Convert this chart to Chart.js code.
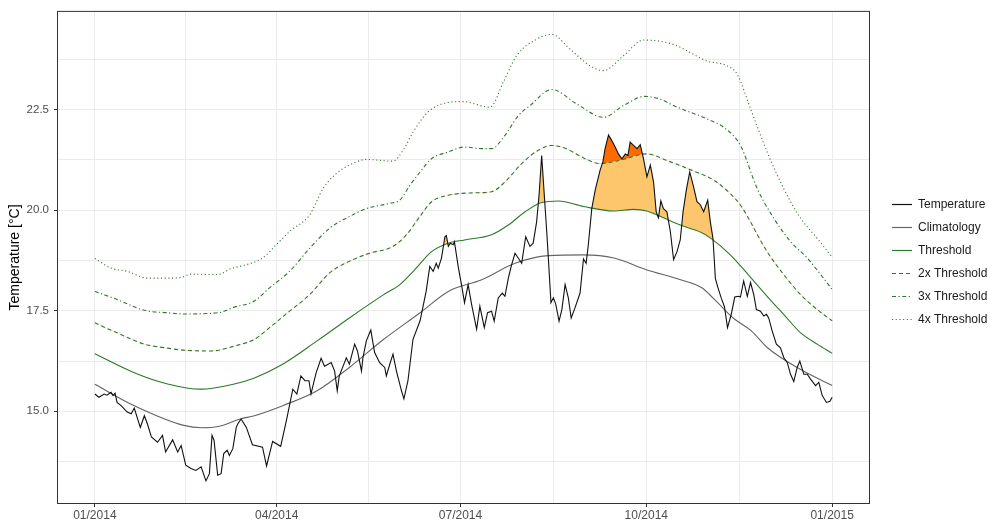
<!DOCTYPE html>
<html lang="en">
<head>
  <meta charset="UTF-8">
  <title>Temperature, climatology and thresholds 2014</title>
  <script src="https://cdn.jsdelivr.net/npm/chart.js"></script>
  <style>
    html, body { margin: 0; padding: 0; background: #fff; overflow: hidden; }
    #wrap { width: 988px; height: 524px; }
  </style>
</head>
<body>
  <div id="wrap"><canvas id="tempChart" width="988" height="524"></canvas></div>

  <script>
    // x values are days counted from 01/01/2014
    const tempDays = [0, 2, 4.6, 6, 8, 9, 10, 11, 13, 16, 18, 19.5, 22.5, 24.5, 26, 28, 31, 33.5, 35, 38.5,
      41, 42.7, 45, 47.6, 50, 52.6, 55, 56.7, 58, 59, 60.8, 62.5, 63.8, 65.5, 66.6, 68.3, 70, 70.8, 72.4, 75,
      78, 83, 85, 86.5, 88, 92, 95, 98, 100, 102, 104, 106, 107, 109.5, 112, 113.7, 117, 118.7, 120, 121,
      124.5, 126, 128.6, 130, 132, 132.7, 134.4, 136.6, 138.5, 141, 143.5, 144.3, 146, 147.6, 149.3, 151.8, 153, 155, 157.5, 161,
      164, 165.8, 167.5, 169, 170, 171.6, 173.3, 174, 175, 176, 177.4, 178, 180, 181.5, 183, 184.8, 186.5, 189, 190.6, 192.8,
      194.4, 196.4, 197.7, 199.7, 201.7, 203, 204.7, 206.3, 208, 209.6, 211.3, 213.3, 215.4, 217, 218.7, 219.9, 221.2, 222.5, 223.7, 224.5,
      225.8, 227, 228.2, 229.8, 231.2, 232.8, 234.4, 235.8, 237.7, 240.2, 241.9, 243.2, 244.3, 246, 247.7, 250.1, 251.5, 252.6, 254.3, 255.9,
      257.6, 259.2, 260.9, 262.6, 263.9, 265, 266.7, 268.4, 270, 271.6, 273.3, 275, 276.6, 277.9, 279, 280.2, 281.5, 283.2, 284.9, 286.5,
      288.2, 289.8, 291.2, 292.8, 294.5, 296.4, 298.1, 299.8, 301.4, 303.4, 304.7, 306, 306.6, 307.2, 308.5, 310.2, 311.7, 313.2, 315, 316.8,
      318.5, 319.6, 321.2, 323, 324.6, 326.2, 327.5, 329.5, 331.2, 332.5, 333.6, 335.3, 337.4, 339.4, 341.1, 342.8, 344.4, 346, 347.7, 349,
      351, 352.7, 354.3, 356.8, 358.4, 360.1, 362.2, 363.9, 365];
    const tempValues = [15.43, 15.35, 15.43, 15.40, 15.47, 15.39, 15.45, 15.22, 15.14, 14.98, 14.94, 15.08, 14.60, 14.89, 14.69, 14.36, 14.23, 14.40, 13.99, 14.29,
      13.99, 14.15, 13.66, 13.58, 13.53, 13.62, 13.27, 13.45, 14.40, 14.28, 13.41, 13.45, 13.95, 14.03, 13.90, 14.07, 14.60, 14.69, 14.81, 14.60,
      14.17, 14.11, 13.64, 13.95, 14.25, 14.13, 14.81, 15.55, 15.43, 15.88, 15.76, 15.76, 15.43, 15.95, 16.32, 16.12, 16.21, 16.00, 15.51, 15.88,
      16.33, 16.17, 16.67, 16.50, 16.00, 16.33, 16.75, 17.02, 16.46, 16.21, 16.09, 15.88, 16.17, 16.42, 16.00, 15.51, 15.31, 15.76, 16.79, 17.25,
      17.98, 18.60, 18.48, 18.68, 18.56, 18.81, 19.34, 19.37, 19.10, 19.18, 19.14, 19.22, 18.56, 18.15, 17.70, 18.15, 17.66, 17.04, 17.61, 17.08,
      17.45, 17.49, 17.24, 17.82, 17.94, 17.86, 18.31, 18.64, 18.93, 18.81, 18.68, 19.34, 19.10, 19.18, 19.71, 20.37, 21.36, 20.37, 19.47, 18.81,
      17.70, 17.82, 17.66, 17.24, 17.53, 18.15, 17.82, 17.32, 17.57, 17.94, 18.79, 18.68, 19.14, 20.04, 20.50, 20.99, 21.20, 21.53, 21.87, 21.73,
      21.57, 21.40, 21.28, 21.40, 21.36, 21.69, 21.61, 21.53, 21.63, 21.28, 20.83, 21.12, 20.70, 19.96, 19.81, 20.23, 20.04, 19.96, 19.47, 18.77,
      18.97, 19.26, 19.96, 20.50, 20.95, 20.58, 20.21, 20.13, 19.96, 20.25, 19.71, 19.30, 18.81, 18.30, 18.07, 17.80, 17.60, 17.08, 17.40, 17.84,
      17.86, 17.84, 18.24, 17.86, 18.20, 17.90, 17.53, 17.49, 17.37, 17.41, 17.32, 17.00, 16.67, 16.58, 16.33, 16.21, 15.92, 15.74, 16.09, 16.25,
      15.92, 15.92, 15.80, 15.64, 15.72, 15.39, 15.22, 15.25, 15.35];

    const climDays = [0, 19.5, 44, 53, 61, 72, 79, 93, 110, 126, 143, 161, 175, 191.5, 208, 224.5, 242, 257, 273, 290, 300.5, 306, 316, 325, 333, 349, 365];
    const climValues = [15.67, 15.14, 14.65, 14.59, 14.62, 14.81, 14.89, 15.14, 15.51, 16.09, 16.79, 17.45, 17.98, 18.27, 18.68, 18.87, 18.89, 18.81, 18.52, 18.27, 18.07, 17.82, 17.32, 17.0, 16.58, 16.05, 15.64];

    const threshDays = [0, 19.5, 36, 52.6, 69, 79, 93, 110, 126, 143, 151, 158, 166.7, 175, 183, 196.4, 204.7, 213, 221.2, 229.5, 242, 256.7, 266.7, 273.3, 281.5, 289.8, 300, 305, 314.6, 324.6, 332.8, 341, 349.4, 357.6, 365];
    const threshValues = [16.43, 15.96, 15.68, 15.55, 15.68, 15.83, 16.17, 16.75, 17.32, 17.90, 18.15, 18.50, 18.97, 19.18, 19.26, 19.39, 19.63, 19.96, 20.19, 20.23, 20.09, 19.98, 20.02, 19.98, 19.81, 19.63, 19.45, 19.30, 18.89, 18.33, 17.86, 17.41, 16.95, 16.67, 16.44];

    const thresh2Days = [0, 11, 24.5, 36, 44, 57.5, 69, 79, 86.5, 96.4, 106.3, 116.2, 126, 136, 147.6, 154.3, 161, 166.7, 175, 186.5, 196.4, 203, 211.3, 219.5, 226.2, 232.8, 242, 250, 260, 273, 284, 295.6, 306.3, 314.6, 319.6, 324.6, 328, 332.8, 341, 349.4, 357.6, 365];
    const thresh2Values = [17.20, 16.95, 16.67, 16.57, 16.52, 16.50, 16.62, 16.79, 17.08, 17.49, 17.90, 18.44, 18.73, 18.93, 19.10, 19.39, 19.85, 20.21, 20.37, 20.43, 20.46, 20.70, 21.16, 21.49, 21.61, 21.54, 21.30, 21.16, 21.24, 21.40, 21.22, 20.99, 20.75, 20.41, 20.13, 19.71, 19.39, 18.97, 18.40, 17.90, 17.53, 17.25];

    const thresh3Days = [0, 11, 24.5, 36, 44, 61, 69, 79, 86.5, 96.4, 106.3, 116.2, 126, 134.4, 146, 151, 156, 161, 166.7, 175, 183, 191.5, 196.4, 203, 209.6, 215.4, 226.2, 238.6, 251.8, 261.7, 272, 280, 286.5, 303, 311.3, 319.6, 327.9, 336.1, 344.4, 352.7, 359.3, 365];
    const thresh3Values = [17.98, 17.78, 17.51, 17.45, 17.42, 17.45, 17.59, 17.74, 18.07, 18.48, 19.05, 19.55, 19.84, 20.04, 20.17, 20.25, 20.62, 20.95, 21.28, 21.45, 21.57, 21.53, 21.53, 21.86, 22.35, 22.60, 23.00, 22.64, 22.31, 22.60, 22.83, 22.76, 22.60, 22.27, 22.06, 21.61, 20.54, 19.80, 19.22, 18.81, 18.40, 18.03];

    const thresh4Days = [0, 8, 16, 26, 36, 42.7, 47.6, 61, 67.5, 74, 83, 89.8, 96.4, 106.3, 113, 119.5, 126, 134.4, 147.6, 152.6, 157.5, 165.8, 182.3, 195.6, 202.2, 208.8, 218.7, 226.2, 235.3, 245.2, 251.8, 261.7, 271.6, 286.5, 303, 313, 318, 324.6, 332.8, 341, 349.4, 357.6, 365];
    const thresh4Values = [18.80, 18.56, 18.48, 18.31, 18.31, 18.33, 18.41, 18.40, 18.55, 18.63, 18.81, 19.14, 19.47, 19.88, 20.54, 20.91, 21.12, 21.26, 21.22, 21.49, 21.94, 22.48, 22.70, 22.56, 23.18, 23.84, 24.25, 24.37, 24.00, 23.59, 23.47, 23.84, 24.23, 24.12, 23.71, 23.59, 23.38, 22.52, 21.45, 20.54, 19.80, 19.30, 18.83];

    const xTickDays = [0, 45, 90, 135.5, 181, 227, 273, 319, 365];
    const xTickLabels = ['01/2014', '', '04/2014', '', '07/2014', '', '10/2014', '', '01/2015'];
    const yTickValues = [13.75, 15, 16.25, 17.5, 18.75, 20, 21.25, 22.5, 23.75];
    const yTickLabels = ['', '15.0', '', '17.5', '', '20.0', '', '22.5', ''];

    const green = '#2b7a2b';
    const font = "'Liberation Sans', Arial, sans-serif";

    function toPoints(days, values) {
      return days.map((d, i) => ({ x: d, y: values[i] }));
    }

    // ggplot style panel border on top of the lines
    const panelBorder = {
      id: 'panelBorder',
      afterDatasetsDraw(chart) {
        const { ctx, chartArea: a } = chart;
        ctx.save();
        ctx.strokeStyle = '#333333';
        ctx.lineWidth = 1;
        ctx.strokeRect(a.left - 0.5, a.top - 0.5, a.right - a.left + 1, a.bottom - a.top + 1);
        ctx.restore();
      }
    };

    // empty axis used only as spacing
    function spacer(position, size) {
      return {
        type: 'linear',
        position: position,
        display: true,
        afterFit: s => { if (s.isHorizontal()) s.height = size; else s.width = size; },
        grid: { display: false },
        border: { display: false },
        ticks: { display: false }
      };
    }

    const smooth = { pointRadius: 0, borderWidth: 1.1, cubicInterpolationMode: 'monotone', fill: false };

    new Chart(document.getElementById('tempChart'), {
      type: 'line',
      data: {
        datasets: [
          { // second pass of temperature: fill above 2x threshold
            label: 'Temperature',
            data: toPoints(tempDays, tempValues),
            borderWidth: 0, borderColor: 'rgba(0,0,0,0)', pointRadius: 0,
            fill: { target: 4, above: '#ff6a00', below: 'rgba(0,0,0,0)' }
          },
          {
            label: 'Temperature',
            data: toPoints(tempDays, tempValues),
            borderColor: '#111111', borderWidth: 1.1, pointRadius: 0,
            fill: { target: 3, above: '#fdc66c', below: 'rgba(0,0,0,0)' }
          },
          Object.assign({ label: 'Climatology', data: toPoints(climDays, climValues), borderColor: '#646464' }, smooth),
          Object.assign({ label: 'Threshold', data: toPoints(threshDays, threshValues), borderColor: green }, smooth),
          Object.assign({ label: '2x Threshold', data: toPoints(thresh2Days, thresh2Values), borderColor: green, borderDash: [4, 3] }, smooth),
          Object.assign({ label: '3x Threshold', data: toPoints(thresh3Days, thresh3Values), borderColor: green, borderDash: [4, 2.5, 1.2, 2.5] }, smooth),
          Object.assign({ label: '4x Threshold', data: toPoints(thresh4Days, thresh4Values), borderColor: green, borderDash: [1.1, 2.6] }, smooth)
        ]
      },
      options: {
        responsive: false,
        animation: false,
        events: [],
        layout: { padding: 0 },
        plugins: {
          filler: { drawTime: 'beforeDatasetsDraw' },
          tooltip: { enabled: false },
          legend: {
            position: 'right',
            maxWidth: 107,
            labels: {
              usePointStyle: true,
              pointStyle: 'line',
              pointStyleWidth: 20,
              padding: 11,
              color: '#1a1a1a',
              font: { family: font, size: 12 },
              filter: item => item.datasetIndex !== 0,
              generateLabels: chart => Chart.defaults.plugins.legend.labels.generateLabels(chart).map(item => {
                const ds = chart.data.datasets[item.datasetIndex];
                item.lineDash = ds.borderDash || [];
                item.lineWidth = 1.2;
                item.strokeStyle = ds.borderColor;
                return item;
              })
            }
          }
        },
        scales: {
          x: {
            type: 'linear',
            min: -18.25,
            max: 383.25,
            afterBuildTicks: s => { s.ticks = xTickDays.map(v => ({ value: v })); },
            afterFit: s => { s.height = 21; },
            grid: {
              color: '#ebebeb',
              lineWidth: 1,
              tickLength: 4,
              tickColor: c => (c.tick && xTickLabels[c.index] ? '#333333' : 'rgba(0,0,0,0)')
            },
            border: { display: false },
            ticks: {
              autoSkip: false,
              maxRotation: 0,
              padding: 1,
              color: '#4d4d4d',
              font: { family: font, size: 12 },
              callback: (v, i) => xTickLabels[i]
            }
          },
          y: {
            type: 'linear',
            min: 12.72,
            max: 24.93,
            afterBuildTicks: s => { s.ticks = yTickValues.map(v => ({ value: v })); },
            afterFit: s => { s.width = 58; },
            grid: {
              color: '#ebebeb',
              lineWidth: 1,
              tickLength: 4,
              tickColor: c => (c.tick && yTickLabels[c.index] ? '#333333' : 'rgba(0,0,0,0)')
            },
            border: { display: false },
            ticks: {
              padding: 5,
              color: '#4d4d4d',
              font: { family: font, size: 11.5 },
              callback: (v, i) => yTickLabels[i]
            },
            title: {
              display: true,
              text: 'Temperature [°C]',
              color: '#000000',
              padding: { top: 7, bottom: 0 },
              font: { family: font, size: 14 }
            }
          },
          gapTop: spacer('top', 9),
          gapRight: spacer('right', 12)
        }
      },
      plugins: [panelBorder]
    });
  </script>
</body>
</html>
